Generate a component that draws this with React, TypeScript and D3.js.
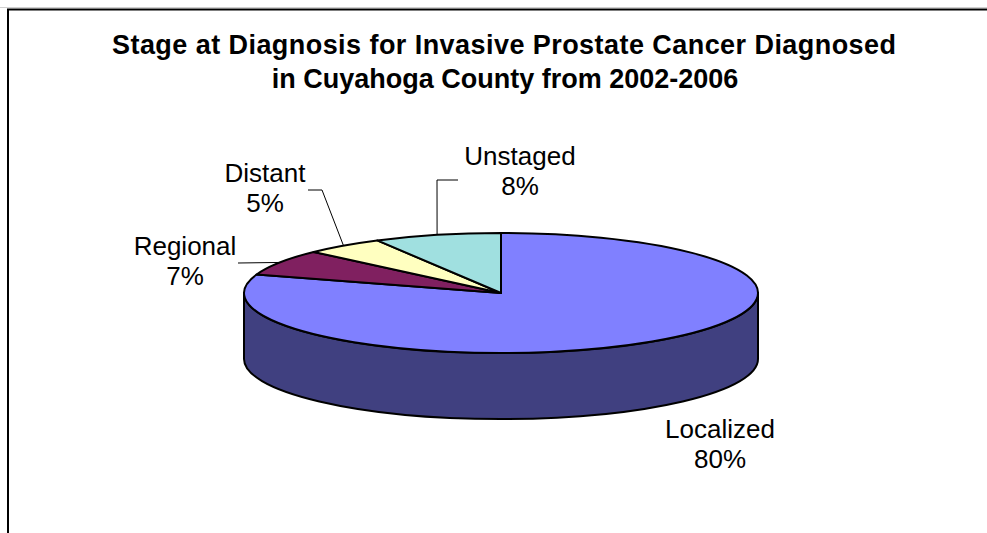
import React from 'react';
import * as d3 from 'd3';

// Stage at diagnosis, share of cases
const stages = ['Localized', 'Regional', 'Distant', 'Unstaged'];
const shares = [80, 7, 5, 8];
const pctLabels = ['80%', '7%', '5%', '8%'];
const topColors = ['#8080FF', '#802060', '#FFFFC0', '#A0E0E0'];
const sideColor = '#404080';

const titleLines = [
  'Stage at Diagnosis for Invasive Prostate Cancer Diagnosed',
  'in Cuyahoga County from 2002-2006',
];

// hand-placed label layout (Excel style), keyed by stage
const labelLayout: Record<string, { x: number; y: number; elbow?: [number, number]; end?: [number, number] }> = {
  Localized: { x: 720, y: 438 },
  Regional: { x: 185, y: 255, elbow: [238, 263], end: [238, 263] },
  Distant: { x: 265, y: 182, elbow: [322, 190], end: [308, 190] },
  Unstaged: { x: 520, y: 165, elbow: [437, 180], end: [458, 180] },
};

const W = 987;
const H = 533;

export default function App() {
  const cx = 501;
  const cy = 293;
  const rx = 257;
  const ry = 60;
  const depth = 66;
  const k = ry / rx;

  const pie = d3.pie<number>().sort(null).value(d => d);
  const arcs = pie(shares);
  const arc = d3.arc<d3.PieArcDatum<number>>().innerRadius(0).outerRadius(rx);

  // front wall of the pie (only the Localized slice covers the front half)
  const d2 = depth / k;
  const side = d3.path();
  side.moveTo(rx, 0);
  side.arc(0, 0, rx, 0, Math.PI);
  side.lineTo(-rx, d2);
  side.arc(0, d2, rx, Math.PI, 0, true);
  side.closePath();

  const edgePoint = (a: number): [number, number] => [cx + rx * Math.sin(a), cy - ry * Math.cos(a)];

  const font = '"Liberation Sans", Arial, sans-serif';

  return (
    <svg width={W} height={H} style={{ position: 'absolute', left: 0, top: 0, background: '#fff' }}>
      <line x1={0} x2={W} y1={7.5} y2={7.5} stroke="#d0d0d0" strokeWidth={1} />
      <path d={`M8,${H} V9.5 H${W}`} fill="none" stroke="#000" strokeWidth={2} />

      <g fontFamily={font} fontWeight="bold" fontSize={27} textAnchor="middle" fill="#000">
        <text x={504} y={54} textLength={784} lengthAdjust="spacing">{titleLines[0]}</text>
        <text x={505} y={88}>{titleLines[1]}</text>
      </g>

      <g transform={`translate(${cx},${cy}) scale(1,${k})`}>
        <path d={side.toString()} fill={sideColor} stroke="#000" strokeWidth={2} vectorEffect="non-scaling-stroke" strokeLinejoin="round" />
        {arcs.map((a, i) => (
          <path key={stages[i]} d={arc(a) || ''} fill={topColors[i]} stroke="#000" strokeWidth={2} vectorEffect="non-scaling-stroke" strokeLinejoin="round" />
        ))}
      </g>

      {arcs.map((a, i) => {
        const L = labelLayout[stages[i]];
        if (!L.elbow || !L.end) return null;
        const p = edgePoint((a.startAngle + a.endAngle) / 2);
        return (
          <polyline key={'l' + i} points={`${p[0]},${p[1]} ${L.elbow[0]},${L.elbow[1]} ${L.end[0]},${L.end[1]}`} fill="none" stroke="#000" strokeWidth={1} />
        );
      })}

      <g fontFamily={font} fontSize={26} textAnchor="middle" fill="#000">
        {stages.map((s, i) => {
          const L = labelLayout[s];
          return (
            <text key={s} x={L.x} y={L.y}>
              <tspan x={L.x}>{s}</tspan>
              <tspan x={L.x} dy={30}>{pctLabels[i]}</tspan>
            </text>
          );
        })}
      </g>
    </svg>
  );
}
